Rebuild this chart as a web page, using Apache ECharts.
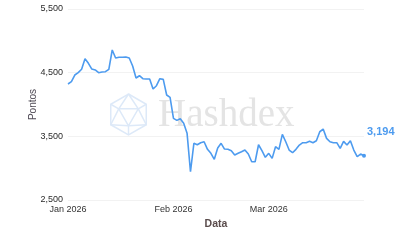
<!DOCTYPE html>
<html>
<head>
<meta charset="utf-8">
<script src="https://cdn.jsdelivr.net/npm/echarts@6/dist/echarts.min.js"></script>
<style>html,body{margin:0;padding:0;background:#fff}#c{width:411px;height:246px}</style>
</head>
<body>
<div id="c"></div>
<script>
// Data: daily index values from 2026-01-01 to 2026-03-29
var startDate = '2026-01-01';
var values = [
4322,4358,4463,4500,4553,4719,4647,4557,4542,4500,
4510,4515,4553,4856,4730,4741,4743,4746,4730,4605,
4416,4452,4405,4400,4400,4243,4295,4405,4395,4149,
4113,3783,3751,3777,3704,3547,2944,3390,3368,3400,
3415,3296,3233,3139,3316,3390,3300,3296,3274,3206,
3233,3258,3285,3222,3101,3101,3368,3274,3170,3233,
3154,3337,3296,3531,3415,3285,3243,3296,3363,3400,
3400,3421,3400,3431,3572,3614,3468,3415,3400,3400,
3311,3421,3363,3431,3285,3180,3222,3194
];
var monthTicks = ['2026-01-01','2026-02-01','2026-03-01'];
var monthLabels = ['Jan 2026','Feb 2026','Mar 2026'];
var yTicks = [2500,3500,4500,5500];
var lastLabel = '3,194';

var categories = [];
(function(){
  var d = new Date(startDate + 'T00:00:00Z');
  for (var i = 0; i < values.length; i++) {
    categories.push(d.toISOString().slice(0,10));
    d.setUTCDate(d.getUTCDate() + 1);
  }
})();

// icosahedron logo geometry
var cx = 128.5, cy = 114.5, r = 20.5;
function pt(angDeg, rad){ var a = angDeg*Math.PI/180; return [cx + rad*Math.cos(a), cy + rad*Math.sin(a)]; }
var hex = []; for (var k = 0; k < 6; k++) hex.push(pt(-90 + 60*k, r));
var tri = [pt(90, r*0.55), pt(210, r*0.55), pt(330, r*0.55)];
var logoLines = [];
logoLines.push({type:'polygon', shape:{points:hex}});
logoLines.push({type:'polygon', shape:{points:tri}});
var conn = [[0,[2,3,4]],[1,[4,5,0]],[2,[0,1,2]]];
conn.forEach(function(c){
  c[1].forEach(function(h){
    logoLines.push({type:'line', shape:{x1:tri[c[0]][0], y1:tri[c[0]][1], x2:hex[h][0], y2:hex[h][1]}});
  });
});
logoLines.forEach(function(e){ e.style = {stroke:'#dde9f8', fill:null, lineWidth:1.5}; e.z = 0; e.silent = true; });

var lastIdx = values.length - 1;
var chart = echarts.init(document.getElementById('c'), null, {renderer:'canvas'});
chart.setOption({
  animation: false,
  backgroundColor: '#fff',
  grid: {left: 68, right: 47, top: 9, bottom: 46},
  graphic: logoLines.concat([{
    type: 'text', z: 0, silent: true,
    style: {text: 'Hashdex', x: 158, y: 116, font: '39px "Liberation Serif"', fill: '#e4e4e4',
      textAlign: 'left', textVerticalAlign: 'middle', verticalAlign: 'middle'}
  }]),
  xAxis: {
    type: 'category', data: categories, boundaryGap: false,
    name: 'Data', nameLocation: 'middle', nameGap: 16,
    nameTextStyle: {fontSize: 10.5, fontWeight: 'bold', color: '#5a4c4c', fontFamily: 'Liberation Sans'},
    axisLine: {show: false}, axisTick: {show: false},
    axisLabel: {
      fontSize: 9, color: '#333', margin: 5, fontFamily: 'Liberation Sans',
      interval: function(i, v){ return monthTicks.indexOf(v) >= 0; },
      formatter: function(v){ var j = monthTicks.indexOf(v); return j >= 0 ? monthLabels[j] : ''; }
    },
    splitLine: {show: false}
  },
  yAxis: {
    type: 'value', min: yTicks[0], max: yTicks[yTicks.length-1], interval: 1000,
    name: 'Pontos', nameLocation: 'middle', nameGap: 30, nameMoveOverlap: false,
    nameTextStyle: {fontSize: 10, color: '#4f4a55', fontFamily: 'Liberation Sans'},
    axisLine: {show: false}, axisTick: {show: false},
    axisLabel: {fontSize: 9, color: '#2a2a2a', margin: 5, fontFamily: 'Liberation Sans',
      formatter: function(v){ return v.toLocaleString('en-US'); }},
    splitLine: {lineStyle: {color: '#f2f2f2', width: 1}}
  },
  series: [{
    type: 'line', data: values, z: 3,
    showSymbol: false, symbol: 'none',
    lineStyle: {color: '#4d9bef', width: 1.6},
    itemStyle: {color: '#4d9bef'},
    markPoint: {
      silent: true,
      symbol: 'circle', symbolSize: 4,
      itemStyle: {color: '#4d9bef'},
      label: {show: true, formatter: lastLabel, position: 'right', offset: [-4, -24],
        color: '#4d9bef', fontWeight: 'bold', fontSize: 11, fontFamily: 'Liberation Sans'},
      data: [{coord: [categories[lastIdx], values[lastIdx]]}]
    }
  }]
});
</script>
</body>
</html>
